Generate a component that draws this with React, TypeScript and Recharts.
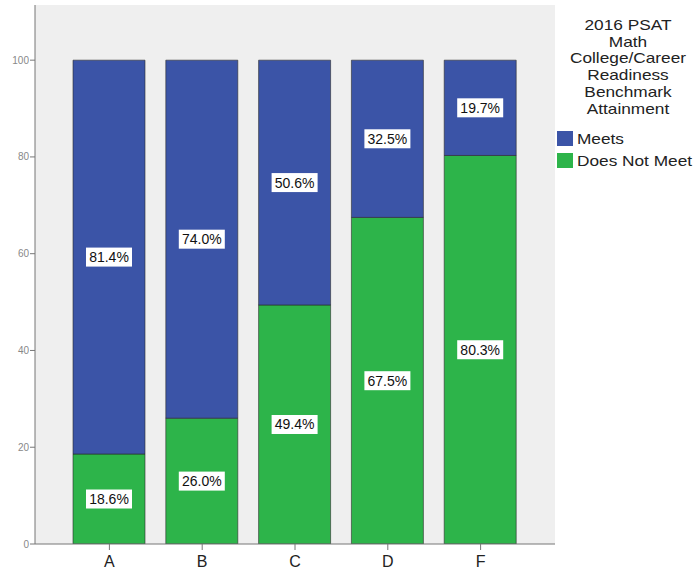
import React from 'react';
import { BarChart, Bar, XAxis, YAxis, CartesianGrid, LabelList } from 'recharts';

const grades = ['A', 'B', 'C', 'D', 'F'];
const meets = [81.4, 74.0, 50.6, 32.5, 19.7];
const doesNotMeet = [18.6, 26.0, 49.4, 67.5, 80.3];
const yTicks = [0, 20, 40, 60, 80, 100];
const titleLines = ['2016 PSAT', 'Math', 'College/Career', 'Readiness', 'Benchmark', 'Attainment'];

const BLUE = '#3b54a7';
const GREEN = '#2db44a';
const FONT = 'Arial, "Liberation Sans", sans-serif';

const data = grades.map((g, i) => ({ grade: g, meets: meets[i], notMeet: doesNotMeet[i] }));

function ValueBox(props: any) {
    const { x, y, width, height, value } = props;
    const cx = Number(x) + Number(width) / 2;
    const cy = Number(y) + Number(height) / 2;
    return (
        <g>
            <rect x={cx - 23} y={cy - 9.5} width={46} height={19} fill="#ffffff" />
            <text x={cx} y={cy + 5} textAnchor="middle" fontSize={14} fill="#111" fontFamily={FONT}>
                {Number(value).toFixed(1)}%
            </text>
        </g>
    );
}

// legend sits to the right of the plot frame, like the SPSS output
function SideLegend() {
    const items = [
        { label: 'Meets', color: BLUE },
        { label: 'Does Not Meet', color: GREEN },
    ];
    return (
        <div style={{ position: 'absolute', left: 556, top: 17, width: 144, fontFamily: FONT, color: '#222' }}>
            <div style={{ textAlign: 'center', fontSize: 15, lineHeight: '16.7px', transform: 'scaleX(1.15)' }}>
                {titleLines.map((t) => (
                    <div key={t}>{t}</div>
                ))}
            </div>
            <div style={{ marginTop: 10 }}>
                {items.map((it) => (
                    <div key={it.label} style={{ display: 'flex', alignItems: 'center', height: 22 }}>
                        <div style={{ width: 16, height: 15, background: it.color, marginLeft: 1 }} />
                        <span style={{ fontSize: 15, marginLeft: 4, transform: 'scaleX(1.15)', transformOrigin: 'left center', whiteSpace: 'nowrap' }}>
                            {it.label}
                        </span>
                    </div>
                ))}
            </div>
        </div>
    );
}

export default function App() {
    return (
        <div style={{ width: 700, height: 577, background: '#fff', position: 'relative' }}>
            <style>{'body{margin:0}'}</style>
            <BarChart
                width={700}
                height={577}
                data={data}
                margin={{ top: 5, right: 145, left: 0, bottom: 0 }}
                barSize={72}
            >
                <CartesianGrid horizontal={false} vertical={false} fill="#efefef" fillOpacity={1} />
                <XAxis
                    dataKey="grade"
                    height={33}
                    padding={{ left: 28, right: 28 }}
                    axisLine={{ stroke: '#777' }}
                    tickLine={{ stroke: '#777' }}
                    tickSize={6}
                    tickMargin={6}
                    tick={{ fill: '#222', fontSize: 16, fontFamily: FONT }}
                />
                <XAxis xAxisId="top" orientation="top" dataKey="grade" height={0} tick={false} tickLine={false} axisLine={{ stroke: '#aaa' }} />
                <YAxis
                    domain={[0, 111.4]}
                    ticks={yTicks}
                    width={35}
                    allowDataOverflow
                    axisLine={{ stroke: '#777' }}
                    tickLine={{ stroke: '#777' }}
                    tickSize={5}
                    tickMargin={1}
                    tick={{ fill: '#888', fontSize: 10, fontFamily: FONT }}
                />
                <YAxis yAxisId="right" orientation="right" width={0} tick={false} tickLine={false} axisLine={{ stroke: '#aaa' }} />
                <Bar dataKey="notMeet" stackId="s" fill={GREEN} stroke="#2a2a2a" strokeWidth={0.6} isAnimationActive={false}>
                    <LabelList dataKey="notMeet" content={ValueBox} />
                </Bar>
                <Bar dataKey="meets" stackId="s" fill={BLUE} stroke="#2a2a2a" strokeWidth={0.6} isAnimationActive={false}>
                    <LabelList dataKey="meets" content={ValueBox} />
                </Bar>
            </BarChart>
            <SideLegend />
        </div>
    );
}
